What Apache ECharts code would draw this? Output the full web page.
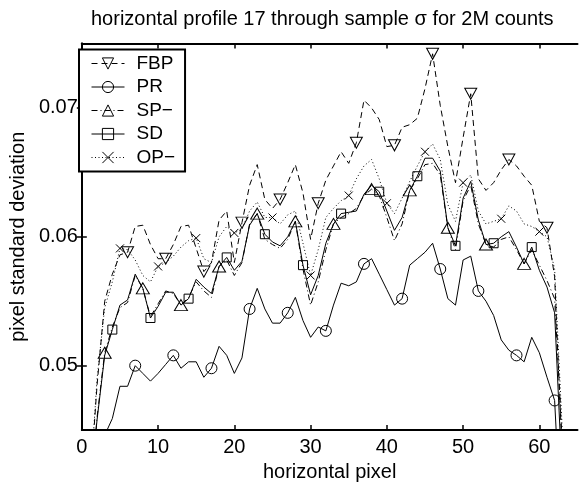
<!DOCTYPE html>
<html>
<head>
<meta charset="utf-8">
<script src="https://cdn.jsdelivr.net/npm/echarts@6/dist/echarts.min.js"></script>
<style>
  html, body { margin: 0; padding: 0; background: #fff; }
  #chart { width: 579px; height: 487px; }
</style>
</head>
<body>
<div id="chart"></div>
<script>
// pixel positions along the profile
const pixels = [1, 2, 3, 4, 5, 6, 7, 8, 9, 10, 11, 12, 13, 14, 15, 16, 17, 18, 19, 20,
  21, 22, 23, 24, 25, 26, 27, 28, 29, 30, 31, 32, 33, 34, 35, 36, 37, 38, 39, 40,
  41, 42, 43, 44, 45, 46, 47, 48, 49, 50, 51, 52, 53, 54, 55, 56, 57, 58, 59, 60,
  61, 62, 63, 64]

const fbp = [0.0400, 0.0485, 0.0550, 0.0571, 0.0586, 0.0588, 0.0608, 0.0609, 0.0594, 0.0583,
  0.0583, 0.0594, 0.0608, 0.0609, 0.0591, 0.0573, 0.0580, 0.0613, 0.0620, 0.0580,
  0.0611, 0.0640, 0.0656, 0.0629, 0.0622, 0.0629, 0.0642, 0.0656, 0.0634, 0.0598,
  0.0626, 0.0644, 0.0655, 0.0666, 0.0657, 0.0673, 0.0706, 0.0700, 0.0691, 0.0670,
  0.0671, 0.0685, 0.0687, 0.0692, 0.0715, 0.0742, 0.0702, 0.0670, 0.0642, 0.0677,
  0.0711, 0.0645, 0.0636, 0.0642, 0.0652, 0.0660, 0.0655, 0.0647, 0.0640, 0.0612,
  0.0607, 0.0569, 0.0430, 0.0380]

const pr = [0.0360, 0.0410, 0.0446, 0.0459, 0.0484, 0.0484, 0.0500, 0.0494, 0.0488, 0.0494,
  0.0501, 0.0508, 0.0498, 0.0503, 0.0503, 0.0491, 0.0498, 0.0515, 0.0508, 0.0494,
  0.0506, 0.0544, 0.0560, 0.0544, 0.0533, 0.0533, 0.0541, 0.0553, 0.0535, 0.0522,
  0.0530, 0.0527, 0.0547, 0.0564, 0.0562, 0.0565, 0.0579, 0.0583, 0.0571, 0.0559,
  0.0547, 0.0552, 0.0578, 0.0583, 0.0588, 0.0595, 0.0575, 0.0552, 0.0547, 0.0582,
  0.0585, 0.0558, 0.0550, 0.0539, 0.0520, 0.0512, 0.0508, 0.0503, 0.0522, 0.0510,
  0.0491, 0.0473, 0.0358, 0.0300]

const sp = [0.0390, 0.0460, 0.0510, 0.0530, 0.0545, 0.0549, 0.0570, 0.0560, 0.0538, 0.0548,
  0.0558, 0.0556, 0.0547, 0.0553, 0.0565, 0.0558, 0.0553, 0.0577, 0.0582, 0.0570,
  0.0580, 0.0610, 0.0618, 0.0598, 0.0594, 0.0591, 0.0598, 0.0612, 0.0575, 0.0547,
  0.0565, 0.0590, 0.0610, 0.0615, 0.0618, 0.0622, 0.0632, 0.0637, 0.0632, 0.0615,
  0.0597, 0.0610, 0.0636, 0.0645, 0.0656, 0.0657, 0.0648, 0.0607, 0.0590, 0.0628,
  0.0640, 0.0610, 0.0594, 0.0592, 0.0598, 0.0600, 0.0590, 0.0579, 0.0590, 0.0578,
  0.0566, 0.0552, 0.0440, 0.0380]

const sd = [0.0400, 0.0458, 0.0508, 0.0528, 0.0547, 0.0551, 0.0571, 0.0560, 0.0537, 0.0546,
  0.0557, 0.0557, 0.0547, 0.0552, 0.0567, 0.0561, 0.0556, 0.0577, 0.0584, 0.0574,
  0.0581, 0.0609, 0.0618, 0.0602, 0.0596, 0.0593, 0.0600, 0.0612, 0.0578, 0.0555,
  0.0570, 0.0595, 0.0610, 0.0618, 0.0619, 0.0620, 0.0633, 0.0640, 0.0635, 0.0620,
  0.0605, 0.0615, 0.0636, 0.0647, 0.0661, 0.0661, 0.0651, 0.0607, 0.0593, 0.0630,
  0.0643, 0.0613, 0.0594, 0.0595, 0.0600, 0.0604, 0.0592, 0.0579, 0.0592, 0.0574,
  0.0561, 0.0541, 0.0411, 0.0350]

const op = [0.0400, 0.0490, 0.0545, 0.0565, 0.0591, 0.0590, 0.0582, 0.0570, 0.0565, 0.0577,
  0.0580, 0.0585, 0.0592, 0.0597, 0.0599, 0.0583, 0.0580, 0.0600, 0.0608, 0.0603,
  0.0606, 0.0620, 0.0627, 0.0615, 0.0615, 0.0610, 0.0617, 0.0620, 0.0595, 0.0570,
  0.0590, 0.0615, 0.0622, 0.0628, 0.0632, 0.0645, 0.0655, 0.0660, 0.0645, 0.0626,
  0.0618, 0.0630, 0.0643, 0.0655, 0.0666, 0.0672, 0.0660, 0.0625, 0.0612, 0.0642,
  0.0648, 0.0620, 0.0610, 0.0612, 0.0614, 0.0624, 0.0620, 0.0610, 0.0608, 0.0604,
  0.0600, 0.0575, 0.0450, 0.0400]

const xTicks = [0, 10, 20, 30, 40, 50, 60]
const yTicks = [0.05, 0.06, 0.07]

const FONT = '"Liberation Sans", Arial, Helvetica, sans-serif'

const chart = echarts.init(document.getElementById('chart'))

// marker only on every 5th pixel, starting at `first`
const mkSeries = (name, values, first, symbol, size, dash) => ({
  name,
  type: 'line',
  symbol,
  symbolSize: size,
  showAllSymbol: true,
  data: values.map((v, i) => ({
    value: [pixels[i], v],
    symbol: (pixels[i] - first) % 5 === 0 ? symbol : 'none'
  })),
  lineStyle: { color: '#000', width: 1, type: dash },
  itemStyle: { color: 'rgba(0,0,0,0)', borderColor: '#000', borderWidth: 1 },
  emphasis: { disabled: true },
  z: 3
})

const frameAxis = {
  axisLine: { show: true, lineStyle: { color: '#000', width: 2 } },
  axisTick: { show: true, inside: true, length: 5, lineStyle: { color: '#000', width: 1.5 } },
  splitLine: { show: false }
}

chart.setOption({
  animation: false,
  title: {
    text: 'horizontal profile 17 through sample σ for 2M counts',
    left: 91,
    top: 9,
    padding: 0,
    textStyle: { fontFamily: FONT, fontSize: 20, fontWeight: 'normal', color: '#000' }
  },
  grid: { left: 74, right: 1.5, top: 43.5, bottom: 46 },
  legend: {
    orient: 'vertical',
    left: 79,
    top: 49.5,
    itemWidth: 33,
    itemHeight: 14,
    itemGap: 4.5,
    padding: [4.5, 10, 4.5, 12],
    borderColor: '#000',
    borderWidth: 2,
    backgroundColor: '#fff',
    itemStyle: { borderWidth: 1, borderColor: '#000', color: 'rgba(0,0,0,0)' },
    lineStyle: { width: 1, color: '#000' },
    textStyle: { fontFamily: FONT, fontSize: 19, color: '#000', padding: [0, 0, 0, 7] },
    data: ['FBP', 'PR', 'SP−', 'SD', 'OP−']
  },
  xAxis: [
    {
      ...frameAxis,
      type: 'value',
      min: 0,
      max: 65,
      name: 'horizontal pixel',
      nameLocation: 'middle',
      nameGap: 27,
      nameTextStyle: { fontFamily: FONT, fontSize: 20, color: '#000' },
      axisTick: { ...frameAxis.axisTick, customValues: xTicks },
      axisLabel: { customValues: xTicks, fontFamily: FONT, fontSize: 20, color: '#000', margin: 7 }
    },
    {
      ...frameAxis,
      type: 'value',
      position: 'top',
      min: 0,
      max: 65,
      axisTick: { ...frameAxis.axisTick, customValues: xTicks },
      axisLabel: { show: false }
    }
  ],
  yAxis: [
    {
      ...frameAxis,
      type: 'value',
      min: 0.045,
      max: 0.075,
      name: 'pixel standard deviation',
      nameLocation: 'middle',
      nameGap: 42,
      nameTextStyle: { fontFamily: FONT, fontSize: 20, color: '#000' },
      axisTick: { ...frameAxis.axisTick, customValues: yTicks },
      axisLabel: {
        customValues: yTicks, fontFamily: FONT, fontSize: 20, color: '#000', margin: 4,
        formatter: v => v.toFixed(2)
      }
    },
    {
      ...frameAxis,
      type: 'value',
      position: 'right',
      min: 0.045,
      max: 0.075,
      axisTick: { ...frameAxis.axisTick, customValues: yTicks },
      axisLabel: { show: false }
    }
  ],
  series: [
    mkSeries('FBP', fbp, 1, 'path://M0,0L12,0L6,10Z', [12, 11], [6, 4]),
    mkSeries('PR', pr, 2, 'circle', 11, 'solid'),
    mkSeries('SP−', sp, 3, 'path://M6,0L12,10L0,10Z', [13, 11], [6, 3, 1, 3]),
    mkSeries('SD', sd, 4, 'rect', 9, 'solid'),
    mkSeries('OP−', op, 5, 'path://M0,0L10,10M10,0L0,10', 8, [1, 2.5])
  ]
})
</script>
</body>
</html>
